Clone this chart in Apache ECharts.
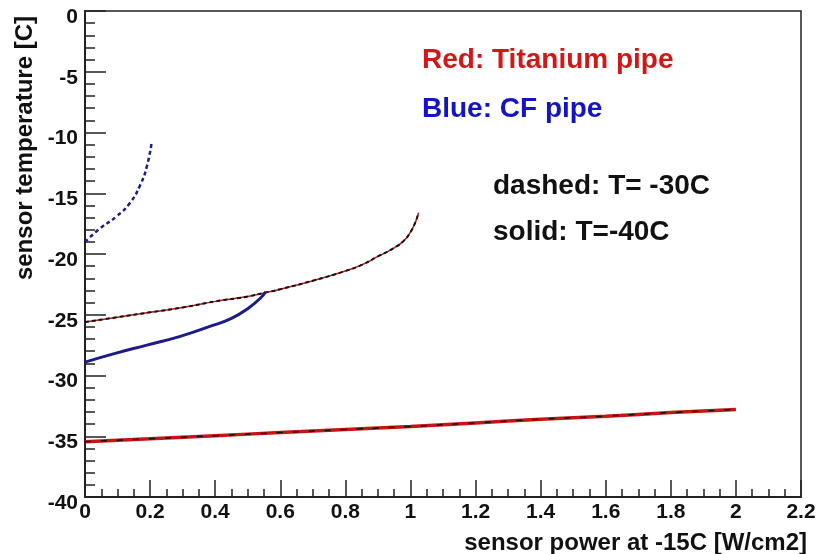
<!DOCTYPE html>
<html>
<head>
<meta charset="utf-8">
<script src="https://cdn.jsdelivr.net/npm/echarts@6/dist/echarts.min.js"></script>
<style>
  body { margin: 0; background: #ffffff; }
  #chart { width: 823px; height: 554px; }
</style>
</head>
<body>
<div id="chart"></div>
<script>
// Titanium pipe, T = -40C (solid)
var tiSolidX = [0, 0.2, 0.4, 0.6, 0.8, 1.0, 1.2, 1.4, 1.6, 1.8, 2.0]
var tiSolidY = [-35.45, -35.2, -34.95, -34.7, -34.45, -34.2, -33.9, -33.6, -33.35, -33.05, -32.8]
// Titanium pipe, T = -30C (dashed)
var tiDashX = [0, 0.1, 0.2, 0.3, 0.4, 0.5, 0.55, 0.6, 0.7, 0.8, 0.85, 0.9, 0.95, 0.98, 1.0, 1.015, 1.025]
var tiDashY = [-25.6, -25.2, -24.8, -24.4, -23.9, -23.5, -23.2, -22.9, -22.2, -21.4, -20.9, -20.2, -19.5, -18.9, -18.2, -17.4, -16.6]
// CF pipe, T = -40C (solid)
var cfSolidX = [0, 0.09, 0.19, 0.29, 0.39, 0.45, 0.5, 0.54, 0.555]
var cfSolidY = [-28.9, -28.2, -27.5, -26.8, -25.9, -25.3, -24.5, -23.6, -23.1]
// CF pipe, T = -30C (dashed)
var cfDashX = [0, 0.046, 0.097, 0.138, 0.17, 0.19, 0.205]
var cfDashY = [-19.0, -17.9, -16.9, -15.8, -14.3, -12.8, -10.8]

var notes = ['Red: Titanium pipe', 'Blue: CF pipe', 'dashed: T= -30C', 'solid: T=-40C']
var xTitle = 'sensor power at -15C [W/cm2]'
var yTitle = 'sensor temperature [C]'

function pairs (xs, ys) {
  return xs.map(function (x, i) { return [x, ys[i]] })
}

var font = "'Liberation Sans', Arial, sans-serif"
var chart = echarts.init(document.getElementById('chart'))

var option = {
  backgroundColor: '#ffffff',
  animation: false,
  grid: {
    left: 85,
    right: 22,
    top: 11,
    bottom: 57,
    show: true,
    borderColor: '#222',
    borderWidth: 1.5
  },
  xAxis: {
    type: 'value',
    min: 0,
    max: 2.2,
    interval: 0.2,
    axisLine: { show: true, onZero: false, lineStyle: { color: '#222', width: 2 } },
    axisTick: { show: true, inside: true, length: 17, lineStyle: { color: '#222', width: 1.5 } },
    minorTick: { show: true, splitNumber: 4, length: 8, lineStyle: { color: '#222', width: 1.5 } },
    splitLine: { show: false },
    axisLabel: { color: '#111', fontSize: 21, fontWeight: 'bold', fontFamily: font, margin: 5 }
  },
  yAxis: {
    type: 'value',
    min: -40,
    max: 0,
    interval: 5,
    axisLine: { show: true, onZero: false, lineStyle: { color: '#222', width: 2 } },
    axisTick: { show: true, inside: true, length: 21, lineStyle: { color: '#222', width: 1.5 } },
    minorTick: { show: true, splitNumber: 5, length: 10, lineStyle: { color: '#222', width: 1.5 } },
    splitLine: { show: false },
    axisLabel: {
      color: '#111', fontSize: 21, fontWeight: 'bold', fontFamily: font,
      margin: 7, verticalAlign: 'top', lineHeight: 12
    }
  },
  graphic: [
    { type: 'text', x: 422, y: 60, style: { text: notes[0], fill: '#d01818', font: 'bold 28px ' + font, verticalAlign: 'middle' } },
    { type: 'text', x: 422, y: 109, style: { text: notes[1], fill: '#1414c0', font: 'bold 28px ' + font, verticalAlign: 'middle' } },
    { type: 'text', x: 493, y: 186, style: { text: notes[2], fill: '#111', font: 'bold 28px ' + font, verticalAlign: 'middle' } },
    { type: 'text', x: 493, y: 232, style: { text: notes[3], fill: '#111', font: 'bold 28px ' + font, verticalAlign: 'middle' } },
    { type: 'text', x: 807, y: 543, style: { text: xTitle, fill: '#111', font: 'bold 24px ' + font, align: 'right', verticalAlign: 'middle' } },
    { type: 'text', x: 25, y: 16, rotation: Math.PI / 2, style: { text: yTitle, fill: '#111', font: 'bold 24px ' + font, align: 'right', verticalAlign: 'middle' } }
  ],
  series: [
    {
      name: 'Titanium -40C', type: 'line', showSymbol: false, smooth: true,
      data: pairs(tiSolidX, tiSolidY),
      lineStyle: { color: '#c81414', width: 3.5 }
    },
    {
      name: 'Titanium -40C overlay', type: 'line', showSymbol: false, smooth: true,
      data: pairs(tiSolidX, tiSolidY),
      lineStyle: { color: '#111', width: 1.5, type: [6, 10] }
    },
    {
      name: 'Titanium -30C', type: 'line', showSymbol: false, smooth: true,
      data: pairs(tiDashX, tiDashY),
      lineStyle: { color: '#c81414', width: 1.5 }
    },
    {
      name: 'Titanium -30C overlay', type: 'line', showSymbol: false, smooth: true,
      data: pairs(tiDashX, tiDashY),
      lineStyle: { color: '#111', width: 2, type: [4, 3] }
    },
    {
      name: 'CF -40C', type: 'line', showSymbol: false, smooth: true,
      data: pairs(cfSolidX, cfSolidY),
      lineStyle: { color: '#1c1c88', width: 3 }
    },
    {
      name: 'CF -30C', type: 'line', showSymbol: false, smooth: true,
      data: pairs(cfDashX, cfDashY),
      lineStyle: { color: '#1c1c88', width: 2.5, type: [4, 3] }
    }
  ]
}

chart.setOption(option)
</script>
</body>
</html>
